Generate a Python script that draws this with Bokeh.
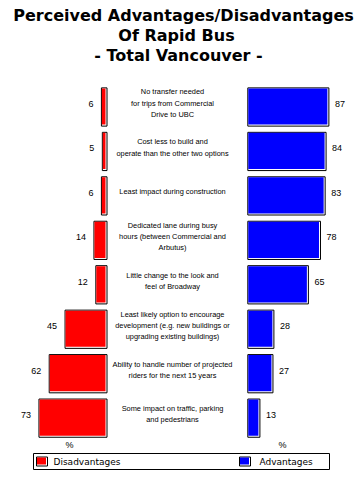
from bokeh.plotting import figure
from bokeh.models import ColumnDataSource, Range1d, Label
from bokeh.core.properties import value
from bokeh.embed import file_html
from bokeh.resources import INLINE

# ---------------- data ----------------
categories = [
    "No transfer needed\nfor trips from Commercial\nDrive to UBC",
    "Cost less to build and\noperate than the other two options",
    "Least impact during construction",
    "Dedicated lane during busy\nhours (between Commercial and\nArbutus)",
    "Little change to the look and\nfeel of Broadway",
    "Least likely option to encourage\ndevelopment (e.g. new buildings or\nupgrading existing buildings)",
    "Ability to handle number of projected\nriders for the next 15 years",
    "Some impact on traffic, parking\nand pedestrians",
]
disadvantages = [6, 5, 6, 14, 12, 45, 62, 73]
advantages = [87, 84, 83, 78, 65, 28, 27, 13]
title_lines = ["Perceived Advantages/Disadvantages", "Of Rapid Bus", "- Total Vancouver -"]
legend_labels = ["Disadvantages", "Advantages"]
unit_label = "%"

# ---------------- layout ----------------
W, H = 361, 480
K = 0.932        # px per percentage point
PITCH = 44.45    # px per row
X0, Y0 = 106.5, 106.5   # picture coords of value 0 (red side) / first row


def X(ix):
    return (ix - X0) / K


def Y(iy):
    return (iy - Y0) / PITCH


GAP = X(247.3)
BH = 0.43
DX, DY = 1.0 / K, 1.0 / PITCH
RED, BLUE = "#ff0000", "#0000ff"

p = figure(width=W, height=H,
           x_range=Range1d(X(0), X(W)), y_range=Range1d(Y(H), Y(0)),
           output_backend="svg", toolbar_location=None, min_border=0,
           x_axis_location=None, y_axis_location=None)
p.grid.visible = False
p.outline_line_color = None

rows = list(range(len(categories)))
src = ColumnDataSource(dict(
    y=rows,
    top=[r - BH for r in rows],
    bottom=[r + BH for r in rows],
    itop=[r - BH + 0.5 * DY for r in rows],
    ibottom=[r + BH - 1.5 * DY for r in rows],
    dleft=[-v for v in disadvantages],
    dileft=[-v + 0.5 * DX for v in disadvantages],
    dright=[0] * len(rows),
    diright=[-1.5 * DX] * len(rows),
    aleft=[GAP] * len(rows),
    aileft=[GAP + 0.5 * DX] * len(rows),
    aright=[GAP + v for v in advantages],
    airight=[GAP + v - 1.5 * DX for v in advantages],
    dlab_x=[-v - 8 / K for v in disadvantages],
    alab_x=[GAP + v + 6 / K for v in advantages],
    lab_y=[r - 3 / PITCH for r in rows],
    cat_y=[r - 4 / PITCH for r in rows],
    cat_x=[X(172)] * len(rows),
    dtxt=[str(v) for v in disadvantages],
    atxt=[str(v) for v in advantages],
    cat=categories,
))

# bars: outline + inset fill (3D style white edge on right/bottom)
p.quad(left="dleft", right="dright", top="top", bottom="bottom", source=src,
       fill_color="white", line_color="black", line_width=1)
p.quad(left="dileft", right="diright", top="itop", bottom="ibottom", source=src,
       fill_color=RED, line_color=None)
p.quad(left="aleft", right="aright", top="top", bottom="bottom", source=src,
       fill_color="white", line_color="black", line_width=1)
p.quad(left="aileft", right="airight", top="itop", bottom="ibottom", source=src,
       fill_color=BLUE, line_color=None)

# value labels
p.text(x="dlab_x", y="lab_y", text="dtxt", source=src, text_align="right",
       text_baseline="middle", text_font=value("Liberation Sans"),
       text_font_size="9px", text_color="black")
p.text(x="alab_x", y="lab_y", text="atxt", source=src, text_align="left",
       text_baseline="middle", text_font=value("Liberation Sans"),
       text_font_size="9px", text_color="black")

# category labels
p.text(x="cat_x", y="cat_y", text="cat", source=src, text_align="center",
       text_baseline="middle", text_font=value("Liberation Sans"),
       text_font_size="7.4px", text_color="black", text_line_height=1.25)

# title
for line, cx, cy in zip(title_lines, [183, 176, 178], [15, 35, 55]):
    p.add_layout(Label(x=X(cx), y=Y(cy), text=line, text_align="center",
                       text_baseline="middle", text_font="DejaVu Sans",
                       text_font_style="bold", text_font_size="16px",
                       text_color="black"))

# % labels
for cx in (69, 282):
    p.add_layout(Label(x=X(cx), y=Y(444), text=unit_label, text_align="center",
                       text_baseline="middle", text_font="Liberation Sans",
                       text_font_size="9px", text_color="black"))

# legend box
p.quad(left=[X(33)], right=[X(329)], top=[Y(453)], bottom=[Y(469)],
       fill_color="white", line_color="black", line_width=1)
for (sx0, sx1), col, lab, tx in zip([(36, 47), (239, 250)], [RED, BLUE],
                                    legend_labels, [53, 259]):
    p.quad(left=[X(sx0)], right=[X(sx1)], top=[Y(456.5)], bottom=[Y(465.5)],
           fill_color="white", line_color="black", line_width=1)
    p.quad(left=[X(sx0 + 0.5)], right=[X(sx1 - 1.5)], top=[Y(457)],
           bottom=[Y(464)], fill_color=col, line_color=None)
    p.add_layout(Label(x=X(tx), y=Y(461), text=lab, text_align="left",
                       text_baseline="middle", text_font="DejaVu Sans",
                       text_font_size="9px", text_color="black"))

open("out.html", "w").write(file_html(p, INLINE))
